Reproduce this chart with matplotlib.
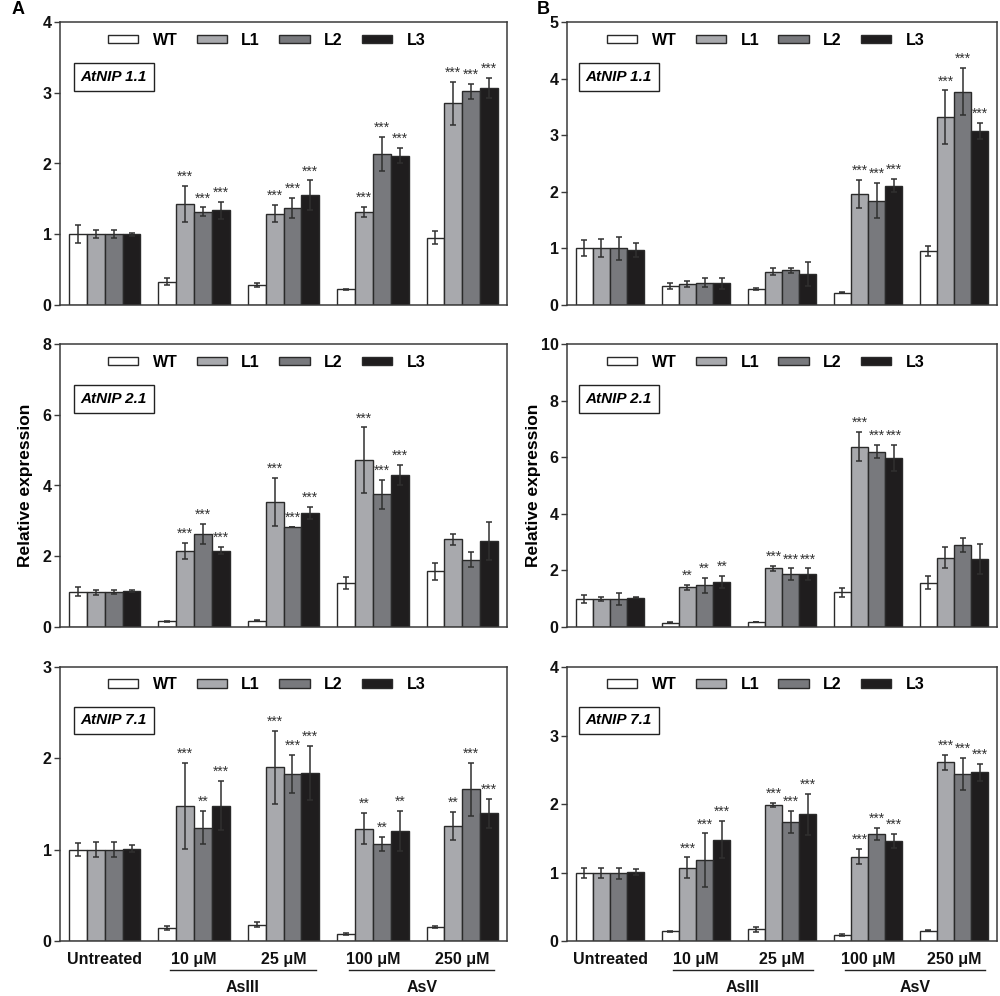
"""
Relative expression of AtNIP genes (WT vs. lines L1-L3) under AsIII / AsV.
Two columns (A, B) x three genes, grouped bar chart with SE bars and stars.
"""
import matplotlib
matplotlib.use("Agg")
import matplotlib.pyplot as plt
from matplotlib.patches import Patch
from matplotlib.transforms import blended_transform_factory

plt.rcParams["font.family"] = ["Liberation Sans", "DejaVu Sans"]

# ---- data ---------------------------------------------------------------
groups = ["Untreated", "10 \u03bcM", "25 \u03bcM", "100 \u03bcM", "250 \u03bcM"]
lines = ["WT", "L1", "L2", "L3"]

# rows = WT, L1, L2, L3 ; columns = groups
mean_a_nip11 = [[1.00, 0.33, 0.28, 0.22, 0.95],
                [1.00, 1.43, 1.29, 1.32, 2.85],
                [1.00, 1.32, 1.37, 2.14, 3.02],
                [1.00, 1.34, 1.55, 2.11, 3.07]]
err_a_nip11 = [[0.13, 0.05, 0.03, 0.01, 0.09],
               [0.06, 0.25, 0.12, 0.07, 0.30],
               [0.06, 0.06, 0.14, 0.24, 0.11],
               [0.02, 0.12, 0.21, 0.11, 0.14]]
sig_a_nip11 = [["", "", "", "", ""],
               ["", "***", "***", "***", "***"],
               ["", "***", "***", "***", "***"],
               ["", "***", "***", "***", "***"]]

mean_b_nip11 = [[1.00, 0.34, 0.28, 0.22, 0.95],
                [1.00, 0.37, 0.59, 1.96, 3.32],
                [1.00, 0.39, 0.61, 1.84, 3.77],
                [0.97, 0.38, 0.55, 2.11, 3.07]]
err_b_nip11 = [[0.14, 0.05, 0.02, 0.01, 0.09],
               [0.16, 0.05, 0.06, 0.25, 0.47],
               [0.20, 0.08, 0.04, 0.31, 0.42],
               [0.13, 0.10, 0.21, 0.11, 0.14]]
sig_b_nip11 = [["", "", "", "", ""],
               ["", "", "", "***", "***"],
               ["", "", "", "***", "***"],
               ["", "", "", "***", "***"]]

mean_a_nip21 = [[1.00, 0.16, 0.18, 1.24, 1.57],
                [0.98, 2.15, 3.53, 4.71, 2.48],
                [0.99, 2.63, 2.83, 3.75, 1.90],
                [1.03, 2.16, 3.22, 4.30, 2.42]]
err_a_nip21 = [[0.13, 0.01, 0.01, 0.16, 0.24],
               [0.07, 0.22, 0.68, 0.93, 0.16],
               [0.07, 0.28, 0.01, 0.41, 0.21],
               [0.03, 0.11, 0.17, 0.28, 0.54]]
sig_a_nip21 = [["", "", "", "", ""],
               ["", "***", "***", "***", ""],
               ["", "***", "***", "***", ""],
               ["", "***", "***", "***", ""]]

mean_b_nip21 = [[0.99, 0.15, 0.18, 1.22, 1.57],
                [0.99, 1.40, 2.07, 6.37, 2.44],
                [0.99, 1.47, 1.87, 6.20, 2.91],
                [1.04, 1.58, 1.87, 5.97, 2.40]]
err_b_nip21 = [[0.13, 0.01, 0.01, 0.17, 0.22],
               [0.08, 0.08, 0.09, 0.52, 0.37],
               [0.20, 0.26, 0.20, 0.23, 0.25],
               [0.02, 0.21, 0.20, 0.47, 0.53]]
sig_b_nip21 = [["", "", "", "", ""],
               ["", "**", "***", "***", ""],
               ["", "**", "***", "***", ""],
               ["", "**", "***", "***", ""]]

mean_a_nip71 = [[1.00, 0.14, 0.18, 0.08, 0.15],
                [1.00, 1.48, 1.90, 1.23, 1.26],
                [1.00, 1.24, 1.83, 1.06, 1.66],
                [1.01, 1.48, 1.84, 1.20, 1.40]]
err_a_nip71 = [[0.07, 0.02, 0.03, 0.01, 0.01],
               [0.08, 0.47, 0.40, 0.17, 0.15],
               [0.08, 0.18, 0.21, 0.08, 0.29],
               [0.04, 0.27, 0.30, 0.22, 0.16]]
sig_a_nip71 = [["", "", "", "", ""],
               ["", "***", "***", "**", "**"],
               ["", "**", "***", "**", "***"],
               ["", "***", "***", "**", "***"]]

mean_b_nip71 = [[0.99, 0.14, 0.17, 0.09, 0.15],
                [0.99, 1.07, 1.99, 1.23, 2.61],
                [0.99, 1.18, 1.74, 1.56, 2.44],
                [1.01, 1.48, 1.85, 1.46, 2.46]]
err_b_nip71 = [[0.07, 0.01, 0.04, 0.01, 0.01],
               [0.07, 0.15, 0.03, 0.11, 0.11],
               [0.08, 0.39, 0.16, 0.09, 0.23],
               [0.04, 0.27, 0.30, 0.10, 0.13]]
sig_b_nip71 = [["", "", "", "", ""],
               ["", "***", "***", "***", "***"],
               ["", "***", "***", "***", "***"],
               ["", "***", "***", "***", "***"]]

genes = ["AtNIP 1.1", "AtNIP 2.1", "AtNIP 7.1"]
ymax_a = [4, 8, 3]
ymax_b = [5, 10, 4]
ystep_a = [1, 2, 1]
ystep_b = [1, 2, 1]

treatments = ["AsIII", "AsV"]
treatment_span = [(1, 2), (3, 4)]   # group indices covered by each bracket

# ---- style --------------------------------------------------------------
COLORS = ["#ffffff", "#a8a9ad", "#78797d", "#1f1d1e"]
EDGE = "#2a2a2a"
SPINE = "#3a3a3a"
FS = 11.5
BAR_W = 0.2

# axes boxes in figure pixels (left, top, right, bottom); fig is 1000 x 996
W, H = 1000, 996
col_x = [(60, 507), (567, 997)]
row_y = [(22, 305), (344, 627), (667, 941)]


def make_axes(fig, col, row):
    x0, x1 = col_x[col]
    y0, y1 = row_y[row]
    return fig.add_axes([x0 / W, 1 - y1 / H, (x1 - x0) / W, (y1 - y0) / H])


def draw_panel(ax, means, errs, sigs, gene, ymax, ystep, bottom_row, ylabel):
    xs_base = range(len(groups))
    for j, lab in enumerate(lines):
        xs = [i + (j - 1.5) * BAR_W for i in xs_base]
        ax.bar(xs, means[j], width=BAR_W, color=COLORS[j], edgecolor=EDGE,
               linewidth=1.0, zorder=2)
        ax.errorbar(xs, means[j], yerr=errs[j], fmt="none", ecolor="#303030",
                    elinewidth=1.1, capsize=2.5, capthick=1.1, zorder=3)
        for x, m, e, s in zip(xs, means[j], errs[j], sigs[j]):
            if s:
                ax.annotate(s, (x, m + e), xytext=(0, 1.5),
                            textcoords="offset points", ha="center",
                            va="bottom", fontsize=10, color="#333333")

    ax.set_xlim(-0.5, len(groups) - 0.5)
    ax.set_ylim(0, ymax)
    ax.set_yticks(range(0, ymax + 1, ystep))
    for sp in ax.spines.values():
        sp.set_color(SPINE)
        sp.set_linewidth(1.1)
    ax.tick_params(axis="y", direction="out", length=4, width=1.0,
                   colors=SPINE, labelcolor="#111111", labelsize=FS, pad=2)
    for t in ax.get_yticklabels():
        t.set_fontweight("bold")

    if bottom_row:
        ax.set_xticks(list(xs_base))
        ax.set_xticklabels(groups, fontsize=FS, fontweight="bold")
        ax.tick_params(axis="x", length=0, pad=8, labelcolor="#111111")
        trans = blended_transform_factory(ax.transData, ax.transAxes)
        for name, (g0, g1) in zip(treatments, treatment_span):
            ax.plot([g0 - 0.27, g1 + 0.36], [-0.106, -0.106], color="#222222",
                    linewidth=1.0, transform=trans, clip_on=False)
            ax.text((g0 - 0.27 + g1 + 0.36) / 2, -0.168, name,
                    transform=trans, ha="center", va="center", fontsize=FS,
                    fontweight="bold", color="#111111")
    else:
        ax.set_xticks([])

    if ylabel:
        ax.set_ylabel("Relative expression", fontsize=12.5, fontweight="bold")
        ax.yaxis.set_label_coords(-0.06, 0.5)

    handles = [Patch(facecolor=c, edgecolor=EDGE, linewidth=1.0) for c in COLORS]
    ax.legend(handles, lines, ncol=4, loc="center",
              bbox_to_anchor=(0.462, 0.935), frameon=False,
              prop={"size": FS, "weight": "bold"}, handlelength=1.9,
              handleheight=0.45, handletextpad=0.9, columnspacing=1.2)

    ax.text(0.12, 0.805, gene, transform=ax.transAxes, ha="center",
            va="center", fontsize=11, fontweight="bold", style="italic",
            bbox=dict(boxstyle="square,pad=0.45", facecolor="white",
                      edgecolor="#222222", linewidth=1.0))


fig = plt.figure(figsize=(10, 9.96), dpi=100)

panels_a = [(mean_a_nip11, err_a_nip11, sig_a_nip11),
            (mean_a_nip21, err_a_nip21, sig_a_nip21),
            (mean_a_nip71, err_a_nip71, sig_a_nip71)]
panels_b = [(mean_b_nip11, err_b_nip11, sig_b_nip11),
            (mean_b_nip21, err_b_nip21, sig_b_nip21),
            (mean_b_nip71, err_b_nip71, sig_b_nip71)]

for row in range(3):
    ax = make_axes(fig, 0, row)
    draw_panel(ax, *panels_a[row], genes[row], ymax_a[row], ystep_a[row],
               row == 2, row == 1)
    ax = make_axes(fig, 1, row)
    draw_panel(ax, *panels_b[row], genes[row], ymax_b[row], ystep_b[row],
               row == 2, row == 1)

fig.text(12 / W, 1 - 9 / H, "A", fontsize=13, fontweight="bold",
         ha="left", va="center")
fig.text(537 / W, 1 - 9 / H, "B", fontsize=13, fontweight="bold",
         ha="left", va="center")

fig.savefig("out.png", dpi=100)
